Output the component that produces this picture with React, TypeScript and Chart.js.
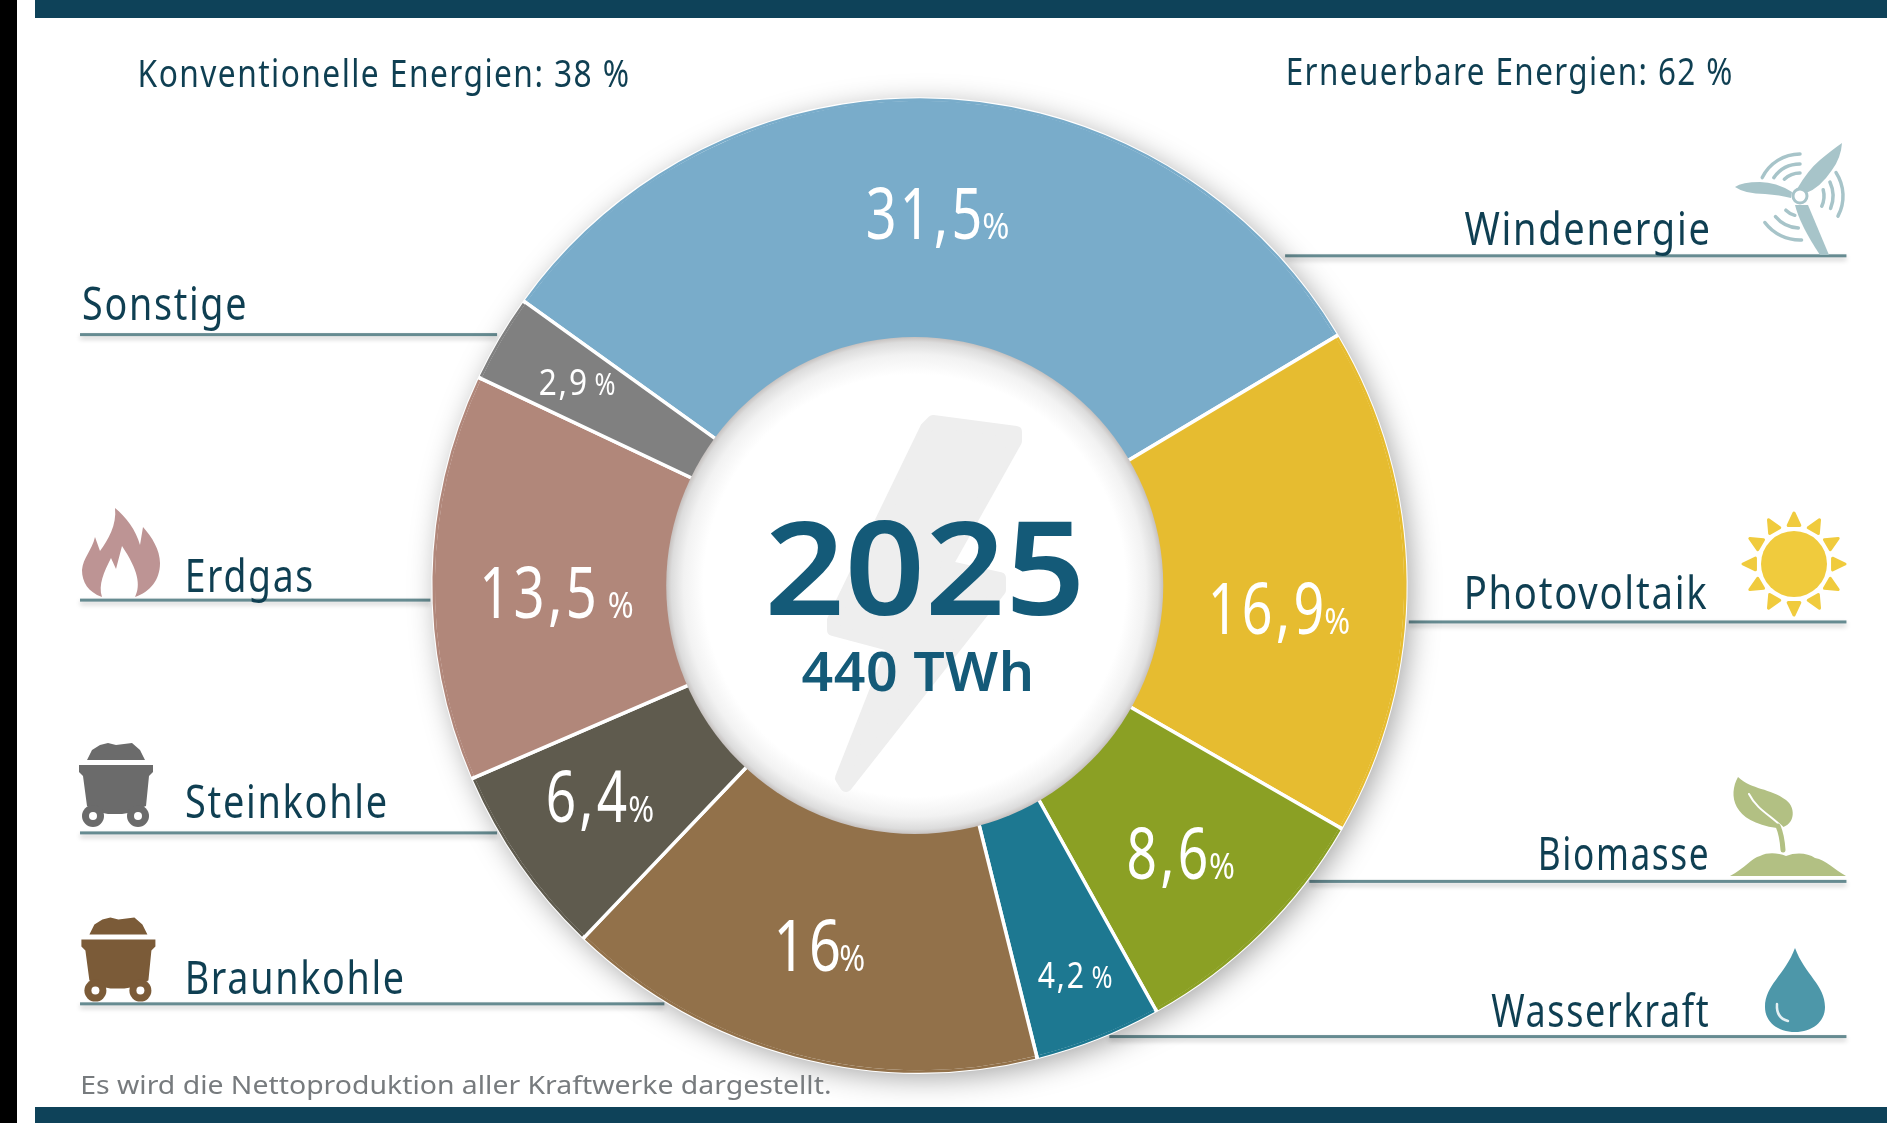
import React, { useEffect, useRef } from "react";
import { Chart, registerables } from "chart.js";

Chart.register(...registerables);

const categories = ["Windenergie", "Photovoltaik", "Biomasse", "Wasserkraft", "Braunkohle", "Steinkohle", "Erdgas", "Sonstige"];
const shares = [31.5, 16.9, 8.6, 4.2, 16, 6.4, 13.5, 2.9];
const colors = ["#79acca", "#e6bc30", "#8ba024", "#1d7891", "#92714a", "#5f5b4e", "#b1877a", "#808080"];
const headerLeft = "Konventionelle Energien: 38 %";
const headerRight = "Erneuerbare Energien: 62 %";
const centerYear = "2025";
const centerTotal = "440 TWh";
const footnote = "Es wird die Nettoproduktion aller Kraftwerke dargestellt.";

const W = 1901, H = 1123;
const k = 1901 / 1568; // layout numbers below are measured on the 1568 wide view
const BODY = "'Noto Sans', sans-serif";
const INK = "#0f3f52";
const CX = 758.5 * k, CY = 483 * k, OUTER = 401.2 * k;
const DISC_X = 754.5 * k, DISC_R = 205 * k;

// label: x0, x1, baseline, line y, line x0, line x1
const nameLayout: Record<string, number[]> = {
  Windenergie: [1208, 1409, 202, 211, 1060, 1523],
  Photovoltaik: [1210, 1408, 502, 513, 1162, 1523],
  Biomasse: [1271, 1408, 718, 727, 1080, 1523],
  Wasserkraft: [1230, 1409, 847, 855, 915, 1523],
  Braunkohle: [155, 332, 820, 828, 66, 548],
  Steinkohle: [154, 318, 675, 687, 66, 410],
  Erdgas: [155, 257, 488, 495, 66, 355],
  Sonstige: [69, 202, 264, 276, 66, 410],
};
// number x0, x1, percent x0, x1, baseline, number font, percent font
const valueLayout = [
  [716, 808, 811, 832, 197, 71, 36],
  [1000, 1090, 1093, 1113, 523, 71, 36],
  [931, 995, 998, 1018, 725, 71, 36],
  [856, 893, 901, 917, 815, 36, 30],
  [642, 692, 693, 713, 801, 71, 36],
  [452, 517, 519, 539, 678, 71, 36],
  [399, 490, 502, 522, 510, 71, 36],
  [445, 483, 491, 507, 326, 36, 30],
];

function fit(ctx: CanvasRenderingContext2D, text: string, x0: number, x1: number, base: number, size: number, color: string, weight = "400", spacing = 0.045) {
  ctx.save();
  ctx.font = `${weight} ${size}px ${BODY}`;
  (ctx as any).letterSpacing = `${size * spacing}px`;
  ctx.textAlign = "left";
  ctx.textBaseline = "alphabetic";
  ctx.fillStyle = color;
  const m = ctx.measureText(text);
  const left = m.actualBoundingBoxLeft, width = m.actualBoundingBoxRight + left;
  const sx = (x1 - x0) / width;
  ctx.translate(x0, base);
  ctx.scale(sx, 1);
  ctx.fillText(text, left, 0);
  ctx.restore();
}

function poly(ctx: CanvasRenderingContext2D, pts: number[][], color: string, round = 0) {
  ctx.beginPath();
  pts.forEach((p, i) => (i ? ctx.lineTo(p[0], p[1]) : ctx.moveTo(p[0], p[1])));
  ctx.closePath();
  ctx.fillStyle = color;
  ctx.fill();
  if (round) {
    ctx.strokeStyle = color;
    ctx.lineWidth = round;
    ctx.lineJoin = "round";
    ctx.stroke();
  }
}

function cart(ctx: CanvasRenderingContext2D, dx: number, dy: number, color: string) {
  ctx.save();
  ctx.translate(dx, dy);
  poly(ctx, [[87, 760], [92, 750], [100, 745], [108, 743], [116, 745], [124, 744], [132, 743], [140, 750], [145, 760]], color);
  poly(ctx, [[79, 765], [153, 765], [153, 772], [149, 776], [146, 806], [128, 813], [122, 814], [108, 814], [103, 813], [87, 806], [83, 776], [79, 772]], color);
  for (const cx of [93, 138]) {
    ctx.beginPath(); ctx.arc(cx, 816, 11, 0, 7); ctx.fillStyle = color; ctx.fill();
    ctx.beginPath(); ctx.arc(cx, 816, 4, 0, 7); ctx.fillStyle = "#fff"; ctx.fill();
  }
  ctx.restore();
}

function flame(ctx: CanvasRenderingContext2D) {
  ctx.beginPath();
  ctx.moveTo(102, 597);
  ctx.bezierCurveTo(88, 592, 82, 582, 82, 570);
  ctx.bezierCurveTo(83, 558, 92, 550, 95, 537);
  ctx.lineTo(100, 551);
  ctx.bezierCurveTo(108, 540, 117, 525, 115, 508);
  ctx.bezierCurveTo(126, 517, 136, 530, 140, 545);
  ctx.lineTo(143, 527);
  ctx.bezierCurveTo(152, 537, 160, 550, 160, 563);
  ctx.bezierCurveTo(160, 580, 150, 592, 135, 597);
  ctx.bezierCurveTo(141, 585, 138, 570, 122, 546);
  ctx.lineTo(116, 569);
  ctx.lineTo(111, 558);
  ctx.bezierCurveTo(104, 572, 98, 585, 102, 597);
  ctx.closePath();
  ctx.fillStyle = "#bd9494";
  ctx.fill();
}

function turbine(ctx: CanvasRenderingContext2D) {
  const c = "#a7c4c9";
  const hx = 1800, hy = 196;
  ctx.fillStyle = c;
  // left blade
  ctx.beginPath();
  ctx.moveTo(1792, 192);
  ctx.quadraticCurveTo(1776, 182, 1760, 182);
  ctx.quadraticCurveTo(1742, 182, 1735, 187);
  ctx.quadraticCurveTo(1745, 194, 1765, 194);
  ctx.quadraticCurveTo(1780, 195, 1791, 198);
  ctx.fill();
  // upper blade
  ctx.beginPath();
  ctx.moveTo(1797, 189);
  ctx.quadraticCurveTo(1808, 170, 1820, 160);
  ctx.quadraticCurveTo(1832, 150, 1842, 143);
  ctx.quadraticCurveTo(1841, 158, 1832, 170);
  ctx.quadraticCurveTo(1820, 188, 1806, 193);
  ctx.fill();
  // lower blade
  ctx.beginPath();
  ctx.moveTo(1795, 205);
  ctx.lineTo(1808, 205);
  ctx.lineTo(1829, 255);
  ctx.lineTo(1820, 255);
  ctx.quadraticCurveTo(1800, 225, 1795, 205);
  ctx.fill();
  ctx.beginPath(); ctx.arc(hx, hy, 7, 0, 7); ctx.fillStyle = "#fff"; ctx.fill();
  ctx.strokeStyle = c; ctx.lineWidth = 3; ctx.stroke();
  const d = Math.PI / 180;
  const arcs = [
    [42, -154, -90], [32, -145, -90], [23, -133, -90],
    [43, -33, 28], [33, -25, 22], [24, -15, 25],
    [44, 88, 143], [32, 93, 140], [20, 105, 135],
  ];
  ctx.lineWidth = 3.5;
  ctx.lineCap = "round";
  arcs.forEach(([r, a, b]) => {
    ctx.beginPath();
    ctx.arc(hx, hy, r, a * d, b * d);
    ctx.stroke();
  });
}

function sun(ctx: CanvasRenderingContext2D) {
  const c = "#f0cb3d", x = 1794, y = 564;
  ctx.beginPath(); ctx.arc(x, y, 33, 0, 7); ctx.fillStyle = c; ctx.fill();
  for (let i = 0; i < 12; i++) {
    const a = (i * Math.PI) / 6;
    const p = (r: number, t: number) => [x + r * Math.cos(a + t), y + r * Math.sin(a + t)];
    poly(ctx, [p(39, -0.15), p(51, 0), p(39, 0.15)], c, 3);
  }
}

function plant(ctx: CanvasRenderingContext2D) {
  const c = "#b2c083";
  ctx.fillStyle = c;
  ctx.beginPath();
  ctx.moveTo(1738, 777);
  ctx.bezierCurveTo(1728, 795, 1732, 822, 1777, 828);
  ctx.bezierCurveTo(1795, 828, 1797, 808, 1786, 800);
  ctx.bezierCurveTo(1770, 788, 1752, 790, 1738, 777);
  ctx.fill();
  ctx.beginPath();
  ctx.moveTo(1749, 794);
  ctx.bezierCurveTo(1757, 810, 1772, 816, 1783, 828);
  ctx.strokeStyle = "#fff"; ctx.lineWidth = 2; ctx.stroke();
  ctx.strokeStyle = c; ctx.lineWidth = 5;
  ctx.beginPath(); ctx.moveTo(1778, 826); ctx.quadraticCurveTo(1782, 835, 1783, 850); ctx.stroke();
  ctx.beginPath();
  ctx.moveTo(1730, 876);
  ctx.bezierCurveTo(1745, 868, 1752, 858, 1760, 856);
  ctx.bezierCurveTo(1768, 852, 1778, 853, 1786, 856);
  ctx.bezierCurveTo(1796, 852, 1808, 853, 1815, 858);
  ctx.bezierCurveTo(1826, 860, 1835, 870, 1846, 876);
  ctx.closePath();
  ctx.fill();
}

function drop(ctx: CanvasRenderingContext2D) {
  ctx.beginPath();
  ctx.moveTo(1795, 948);
  ctx.bezierCurveTo(1785, 975, 1765, 985, 1765, 1007);
  ctx.bezierCurveTo(1765, 1022, 1778, 1032, 1795, 1032);
  ctx.bezierCurveTo(1812, 1032, 1825, 1022, 1825, 1007);
  ctx.bezierCurveTo(1825, 985, 1805, 975, 1795, 948);
  ctx.fillStyle = "#4d97a9";
  ctx.fill();
  ctx.beginPath();
  ctx.moveTo(1777, 1004);
  ctx.quadraticCurveTo(1776, 1018, 1788, 1021);
  ctx.strokeStyle = "#e4f0f3"; ctx.lineWidth = 2.5; ctx.lineCap = "round"; ctx.stroke();
}

const decor = {
  id: "decor",
  beforeDatasetsDraw(chart: any) {
    const ctx: CanvasRenderingContext2D = chart.ctx;
    ctx.save();
    ctx.fillStyle = "#fff"; ctx.fillRect(0, 0, W, H);
    ctx.fillStyle = "#000"; ctx.fillRect(0, 0, 17, H);
    ctx.fillStyle = "#0e4259";
    ctx.fillRect(35, 0, 1852, 18);
    ctx.fillRect(35, 1107, 1852, 16);

    categories.forEach((name) => {
      const [, , , ly, lx0, lx1] = nameLayout[name];
      ctx.save();
      ctx.shadowColor = "rgba(0,0,0,.22)"; ctx.shadowBlur = 5; ctx.shadowOffsetY = 3;
      ctx.fillStyle = "#668b91";
      ctx.fillRect(lx0 * k, ly * k - 1.5, (lx1 - lx0) * k, 3);
      ctx.restore();
    });

    // soft shadow of the ring
    ctx.save();
    ctx.shadowColor = "rgba(0,0,0,.38)"; ctx.shadowBlur = 30; ctx.shadowOffsetX = 5; ctx.shadowOffsetY = 6;
    ctx.beginPath(); ctx.arc(CX, CY, OUTER - 1, 0, Math.PI * 2); ctx.fillStyle = "#fff"; ctx.fill();
    ctx.restore();
    ctx.restore();
  },
  afterDatasetsDraw(chart: any) {
    const ctx: CanvasRenderingContext2D = chart.ctx;
    const meta = chart.getDatasetMeta(0);
    ctx.save();
    // the slices run right up to the outer edge: the white separators stop just short of it
    meta.data.forEach((arc: any, i: number) => {
      const { x, y, outerRadius, startAngle, endAngle } = arc.getProps(["x", "y", "outerRadius", "startAngle", "endAngle"]);
      const pad = 2 / outerRadius;
      ctx.beginPath();
      ctx.arc(x, y, outerRadius - 0.6, startAngle + pad, endAngle - pad);
      ctx.strokeStyle = colors[i];
      ctx.lineWidth = 2.6;
      ctx.stroke();
    });

    // centre disc with its inner rim shade
    const g = ctx.createRadialGradient(DISC_X, CY, 0, DISC_X, CY, DISC_R);
    g.addColorStop(0, "#fff"); g.addColorStop(0.85, "#fff"); g.addColorStop(0.93, "#f2f2f2"); g.addColorStop(0.98, "#dcdcdc"); g.addColorStop(1, "#c6c1bf");
    ctx.beginPath(); ctx.arc(DISC_X, CY, DISC_R, 0, Math.PI * 2); ctx.fillStyle = g; ctx.fill();
    poly(ctx, [[933, 421], [1016, 432], [1016, 441], [946, 566], [1000, 578], [1000, 590], [846, 786], [841, 778], [893, 646], [833, 630], [833, 620], [926, 428]], "#eeeeee", 12);

    fit(ctx, centerYear, 635 * k, 890 * k, 507 * k, 131, "#145a78", "600", 0);
    fit(ctx, centerTotal, 662 * k, 850 * k, 570 * k, 54, "#145a78", "600", 0.01);

    fit(ctx, headerLeft, 115.5 * k, 518 * k, 72 * k, 39, INK);
    fit(ctx, headerRight, 1062.5 * k, 1428 * k, 70 * k, 39, INK);
    fit(ctx, footnote, 68 * k, 685 * k, 902 * k, 26, "#777b7e", "400", 0);

    categories.forEach((name) => {
      const [x0, x1, base] = nameLayout[name];
      fit(ctx, name, x0 * k, x1 * k, base * k, 46, INK);
    });

    shares.forEach((v, i) => {
      if (!meta.data[i]) return;
      const [nx0, nx1, px0, px1, base, nf, pf] = valueLayout[i];
      fit(ctx, String(v).replace(".", ","), nx0 * k, nx1 * k, base * k, nf, "#fff", "400", 0.06);
      fit(ctx, "%", px0 * k, px1 * k, base * k, pf, "#fff", "400", 0);
    });

    flame(ctx);
    cart(ctx, 0, 0, "#6b6b6b");
    cart(ctx, 2.4, 174.6, "#7b5b38");
    turbine(ctx);
    sun(ctx);
    plant(ctx);
    drop(ctx);
    ctx.restore();
  },
};

export default function App() {
  const ref = useRef<HTMLCanvasElement>(null);
  useEffect(() => {
    document.body.style.margin = "0";
    const chart = new Chart(ref.current!, {
      type: "doughnut",
      data: {
        labels: categories,
        datasets: [{ data: shares, backgroundColor: colors, borderColor: "#ffffff", borderWidth: 3.5, borderAlign: "center" }],
      },
      options: {
        responsive: false,
        animation: false,
        rotation: -54.3,
        radius: OUTER,
        cutout: "46%",
        layout: { padding: { left: 0, top: Math.round(2 * CY - H), right: Math.round(W - 2 * CX), bottom: 0 } },
        plugins: { legend: { display: false }, tooltip: { enabled: false } },
      },
      plugins: [decor],
    } as any);
    return () => chart.destroy();
  }, []);
  return <canvas ref={ref} width={W} height={H} style={{ display: "block", width: W, height: H }} />;
}
